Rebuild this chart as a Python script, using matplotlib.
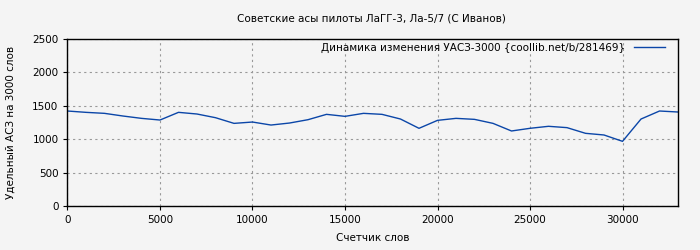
import numpy as np
import matplotlib.pyplot as plt

words = [0, 1000, 2000, 3000, 4000, 5000, 6000, 7000, 8000, 9000, 10000,
         11000, 12000, 13000, 14000, 15000, 16000, 17000, 18000, 19000, 20000,
         21000, 22000, 23000, 24000, 25000, 26000, 27000, 28000, 29000, 30000,
         31000, 32000, 33000]
uasz = [1422, 1402, 1387, 1347, 1312, 1287, 1402, 1377, 1322, 1237, 1257,
        1212, 1242, 1292, 1372, 1342, 1387, 1372, 1302, 1163, 1282,
        1312, 1297, 1237, 1123, 1163, 1193, 1173, 1088, 1063, 968,
        1302, 1422, 1407]

bg = '#f4f4f4'
plt.rcParams['font.family'] = 'DejaVu Sans'
plt.rcParams['font.size'] = 7.5

fig = plt.figure(figsize=(7, 2.5), dpi=100, facecolor=bg)
ax = fig.add_axes([0.0964, 0.176, 0.8722, 0.668], facecolor=bg)

ax.plot(words, uasz, color='#0b46a8', lw=1.0,
        label='Динамика изменения УАСЗ-3000 {coollib.net/b/281469}')

ax.set_xlim(0, 33000)
ax.set_ylim(0, 2500)
ax.set_xticks([0, 5000, 10000, 15000, 20000, 25000, 30000])
ax.set_yticks([0, 500, 1000, 1500, 2000, 2500])
ax.grid(True, color='#999999', linestyle=(0, (2, 3)), lw=0.8)
ax.tick_params(direction='out', length=3, width=0.8, color='black')
for s in ax.spines.values():
    s.set_linewidth(1.0)

ax.set_xlabel('Счетчик слов', labelpad=6)
ax.set_ylabel('Удельный АСЗ на 3000 слов', labelpad=12)
fig.text(0.53, 0.925, 'Советские асы пилоты ЛаГГ-3, Ла-5/7 (С Иванов)',
         ha='center', va='center', fontsize=7.5)

ax.legend(loc='upper right', bbox_to_anchor=(0.979, 0.978), frameon=False,
          markerfirst=False, handlelength=3.0, borderpad=0, borderaxespad=0,
          fontsize=7.5)

fig.savefig('out.png', dpi=100, facecolor=bg)
